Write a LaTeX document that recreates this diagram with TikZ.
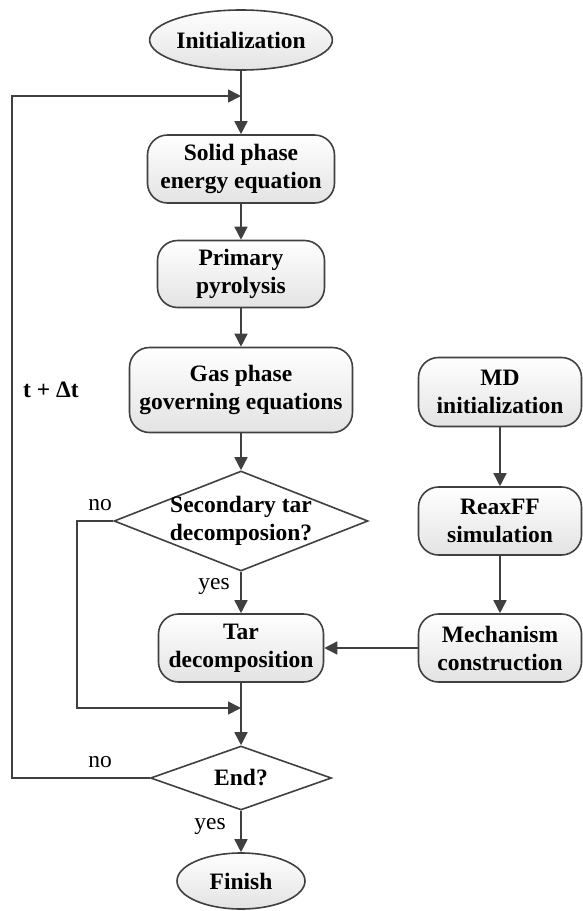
\documentclass[tikz,border=0pt]{standalone}
\usepackage{fontspec}
\setmainfont{Liberation Serif}
\usetikzlibrary{shapes.geometric,arrows.meta}
\definecolor{ln}{HTML}{404040}
\tikzset{
  x=1pt,y=-1pt,
  base/.style={draw=ln,line width=1.6pt,align=center,inner sep=0pt,
    font=\fontsize{23.5}{28}\selectfont\bfseries,text=black},
  term/.style={base,ellipse,top color=white,bottom color=gray!22},
  proc/.style={base,rectangle,rounded corners=20pt,top color=white,bottom color=gray!22},
  dec/.style={base,diamond,fill=white},
  arr/.style={draw=ln,line width=1.6pt,-{Triangle[length=13pt,width=13pt]}},
  lnk/.style={draw=ln,line width=1.6pt},
  lab/.style={font=\fontsize{23.5}{28}\selectfont,inner sep=0pt},
}
\begin{document}
\begin{tikzpicture}
\useasboundingbox (0,0) rectangle (583,911);
\node[term,minimum width=152pt,minimum height=60pt] (init) at (241,40) {Initialization};
\node[proc,minimum width=187pt,minimum height=68pt] (solid) at (241,169) {Solid phase\\energy equation};
\node[proc,minimum width=167pt,minimum height=67pt] (prim) at (241,274) {Primary\\pyrolysis};
\node[proc,minimum width=223pt,minimum height=85pt] (gas) at (241,390) {Gas phase\\governing equations};
\node[dec,minimum width=254pt,minimum height=100pt,
  label={[base,draw=none,fill=none]center:Secondary tar\\decomposion?}] (sec) at (241,521) {};
\node[proc,minimum width=165pt,minimum height=68pt] (tar) at (241,648) {Tar\\decomposition};
\node[dec,minimum width=181pt,minimum height=64pt,
  label={[base,draw=none,fill=none]center:End?}] (end) at (241,778) {};
\node[term,minimum width=128pt,minimum height=56pt] (fin) at (241,881) {Finish};
\node[proc,minimum width=163pt,minimum height=69pt] (md) at (500,392) {MD\\initialization};
\node[proc,minimum width=163pt,minimum height=68pt] (reax) at (500,521) {ReaxFF\\simulation};
\node[proc,minimum width=163pt,minimum height=68pt] (mech) at (500,648) {Mechanism\\construction};

\coordinate (loopT) at (241,96);
\coordinate (loopL) at (12,96);
\coordinate (noT) at (77,521);
\coordinate (noB) at (77,708);
\coordinate (noJ) at (241,708);

\draw[arr] (init) -- (solid);
\draw[arr] (solid) -- (prim);
\draw[arr] (prim) -- (gas);
\draw[arr] (gas) -- (sec);
\draw[arr] (sec) -- (tar);
\draw[arr] (tar) -- (end);
\draw[arr] (end) -- (fin);
\draw[arr] (md) -- (reax);
\draw[arr] (reax) -- (mech);
\draw[arr] (mech) -- (tar);
\draw[arr] (sec.west) -- (noT) -- (noB) -- (noJ);
\draw[arr] (end.west) -- (loopL |- end.west) -- (loopL) -- (loopT);

\node[lab] (no1) at (100,505) {no};
\node[lab] (yes1) at (214,586) {yes};
\node[lab] (no2) at (100,762) {no};
\node[lab] (yes2) at (210,826) {yes};
\node[lab,font=\fontsize{23.5}{28}\selectfont\bfseries] (dt) at (51,390) {t + Δt};
\end{tikzpicture}
\end{document}
